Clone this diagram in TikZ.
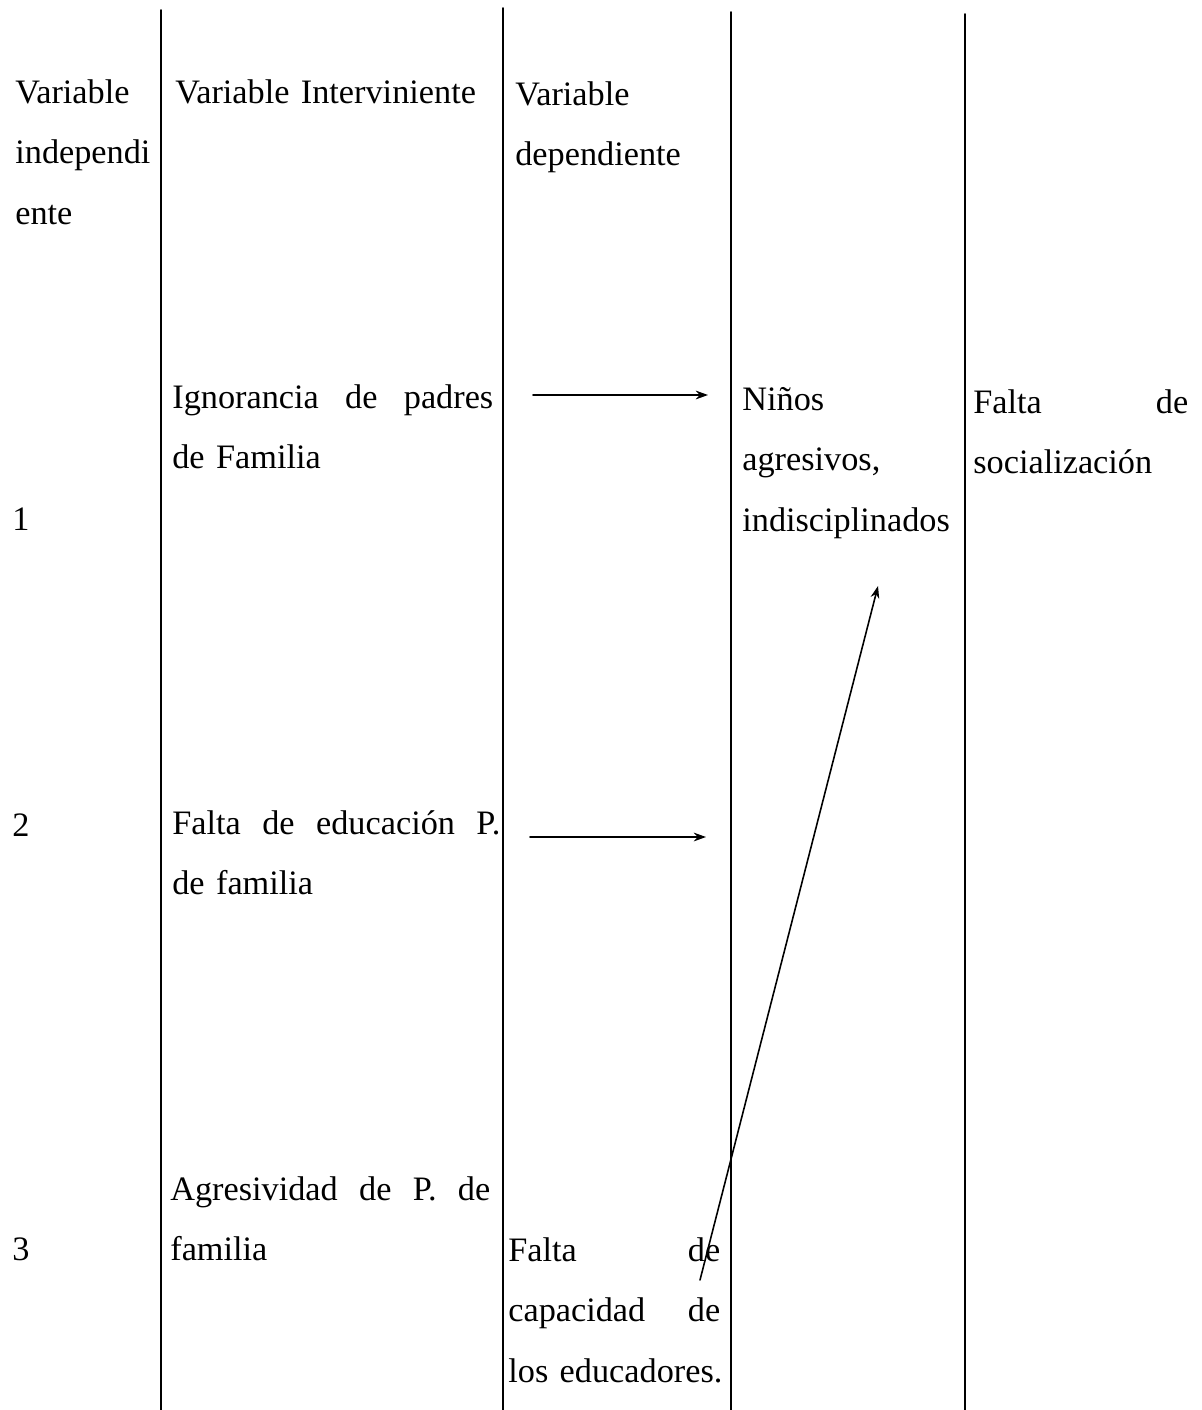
\documentclass[tikz,border=0pt]{standalone}
\usepackage{fontspec}
\setmainfont{Liberation Serif}
\newfontfamily\romana{Liberation Serif}
\usetikzlibrary{arrows.meta}
\begin{document}
\begin{tikzpicture}[x=0.02cm,y=-0.02cm,>={Stealth[length=7pt,width=5pt]},line cap=round,
	font=\romana\fontsize{19.5}{34.7}\selectfont,
	cell/.style={inner sep=0pt,anchor=base west,align=left,text width=4.5cm},
	rule/.style={line width=1.1pt},
	flecha/.style={->,line width=0.9pt}]
	\useasboundingbox (0,0) rectangle (1201,1410);
	% lineas de la tabla
	\draw[rule] (161,10)--(161,1410);
	\draw[rule] (503,8)--(503,1410);
	\draw[rule] (731,12)--(731,1410);
	\draw[rule] (965,14)--(965,1410);
	% encabezados
	\node[cell,text width=2.8cm] (vindep) at (15,103) {Variable\\independi\\ente};
	\node[cell,text width=6.5cm] (vinter) at (175,103) {Variable Interviniente};
	\node[cell] (vdep) at (515,105) {Variable\\dependiente};
	% numeros
	\node[cell] (uno) at (12,530) {1};
	\node[cell] (dos) at (12,836) {2};
	\node[cell] (tres) at (12,1260) {3};
	% celdas
	\node[cell,text width=6.42cm] (ignorancia) at (172,408) {Ignorancia\hfill de\hfill padres\\de Familia};
	\node[cell,text width=6.56cm] (educacion) at (172,834) {Falta\hfill de\hfill educación\hfill P.\\de familia};
	\node[cell,text width=6.40cm] (agresividad) at (170,1200) {Agresividad\hfill de\hfill P.\hfill de\\familia};
	\node[cell] (ninos) at (742,410) {Niños\\agresivos,\\\mbox{indisciplinados}};
	\node[cell,text width=4.30cm] (social) at (973,413) {Falta\hfill de\\socialización};
	\node[cell,text width=4.24cm] (capacidad) at (508,1261) {Falta\hfill de\\capacidad\hfill de\\\mbox{los educadores.}};
	% flechas
	\coordinate (f1a) at (533,395); \coordinate (f1b) at (708,395);
	\coordinate (f2a) at (530,837); \coordinate (f2b) at (706,837);
	\coordinate (f3a) at (700,1280); \coordinate (f3b) at (878,586);
	\draw[flecha] (f1a)--(f1b);
	\draw[flecha] (f2a)--(f2b);
	\draw[flecha] (f3a)--(f3b);
\end{tikzpicture}
\end{document}
